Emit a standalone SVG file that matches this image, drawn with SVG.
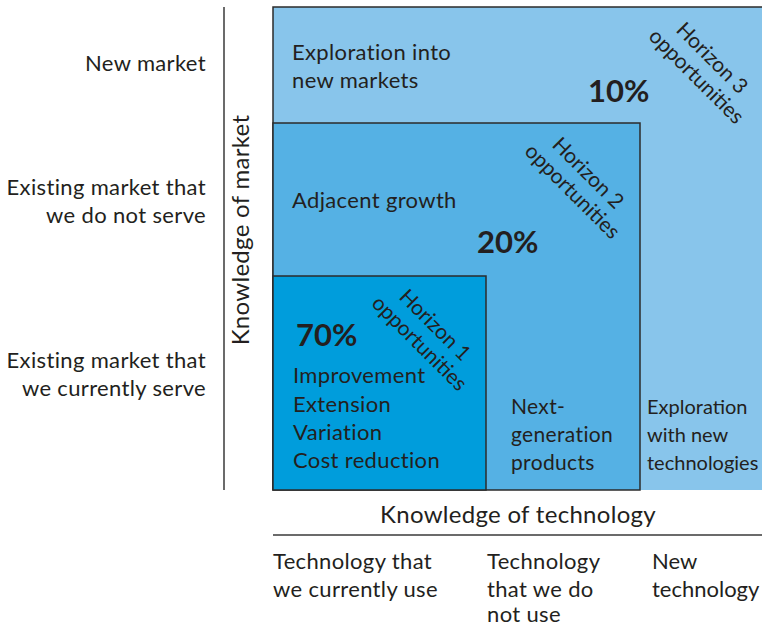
<svg xmlns="http://www.w3.org/2000/svg" width="762" height="629" viewBox="0 0 762 629">
  <style>
    text { font-family: "Lato", "Open Sans", "Liberation Sans", sans-serif; fill: #231f20; font-size: 22px; letter-spacing: 0.35px; }
    .pct { font-weight: 700; font-size: 31px; letter-spacing: 0; }
    .diag { font-size: 21px; letter-spacing: 0; text-anchor: middle; }
    .col2 { font-size: 21px; }
    .col3 { font-size: 20px; letter-spacing: 0; }
    .title { font-size: 24px; letter-spacing: 0.3px; }
    .tight { letter-spacing: 0; }
    .end { text-anchor: end; }
    .mid { text-anchor: middle; }
    .edge { stroke: #2b2b2b; stroke-width: 1.5; }
    .axis { stroke: #3a3a3a; stroke-width: 1.5; fill: none; }
  </style>

  <!-- Horizon 3: whole field -->
  <g id="horizon3">
    <rect x="273" y="7" width="490" height="483" fill="#88c5eb"/>
    <path class="edge" d="M273 490 V7 H763" fill="none"/>
    <text x="292" y="60">Exploration into</text>
    <text x="292" y="88">new markets</text>
    <text class="pct" x="588" y="102">10%</text>
    <g transform="translate(707,63) rotate(45)">
      <text class="diag" x="0" y="0">Horizon 3</text>
      <text class="diag" x="2" y="24">opportunities</text>
    </g>
    <text class="col3" x="647" y="414">Exploration</text>
    <text class="col3" x="647" y="442">with new</text>
    <text class="col3" x="647" y="470">technologies</text>
  </g>

  <!-- Horizon 2: adjacent -->
  <g id="horizon2">
    <rect class="edge" x="273" y="123" width="367" height="367" fill="#55b1e4"/>
    <text x="292" y="208">Adjacent growth</text>
    <text class="pct" x="477" y="253">20%</text>
    <g transform="translate(583,178) rotate(45)">
      <text class="diag" x="0" y="0">Horizon 2</text>
      <text class="diag" x="2" y="24">opportunities</text>
    </g>
    <text class="col2" x="511" y="414">Next-</text>
    <text class="col2" x="511" y="442">generation</text>
    <text class="col2" x="511" y="470">products</text>
  </g>

  <!-- Horizon 1: core -->
  <g id="horizon1">
    <rect class="edge" x="273" y="276" width="213" height="214" fill="#009ddc"/>
    <text class="pct" x="296" y="346">70%</text>
    <g transform="translate(430,330) rotate(45)">
      <text class="diag" x="0" y="0">Horizon 1</text>
      <text class="diag" x="2" y="24">opportunities</text>
    </g>
    <text x="293" y="383">Improvement</text>
    <text x="293" y="412">Extension</text>
    <text x="293" y="440">Variation</text>
    <text x="293" y="468">Cost reduction</text>
  </g>

  <!-- axes -->
  <g id="axes">
    <line class="axis" x1="224" y1="7" x2="224" y2="490"/>
    <line class="axis" x1="273" y1="535" x2="762" y2="535"/>
  </g>

  <g id="market-axis">
    <text class="title mid" transform="translate(249,230) rotate(-90)">Knowledge of market</text>
    <text class="end" x="206" y="71">New market</text>
    <text class="end" x="206" y="195">Existing market that</text>
    <text class="end" x="206" y="223">we do not serve</text>
    <text class="end" x="206" y="368">Existing market that</text>
    <text class="end" x="206" y="396">we currently serve</text>
  </g>

  <g id="technology-axis">
    <text class="title mid" x="518" y="523">Knowledge of technology</text>
    <text x="273" y="569">Technology that</text>
    <text x="273" y="597">we currently use</text>
    <text x="487" y="569">Technology</text>
    <text x="487" y="597">that we do</text>
    <text x="487" y="622">not use</text>
    <text class="tight" x="652" y="569">New</text>
    <text class="tight" x="652" y="597">technology</text>
  </g>
</svg>
